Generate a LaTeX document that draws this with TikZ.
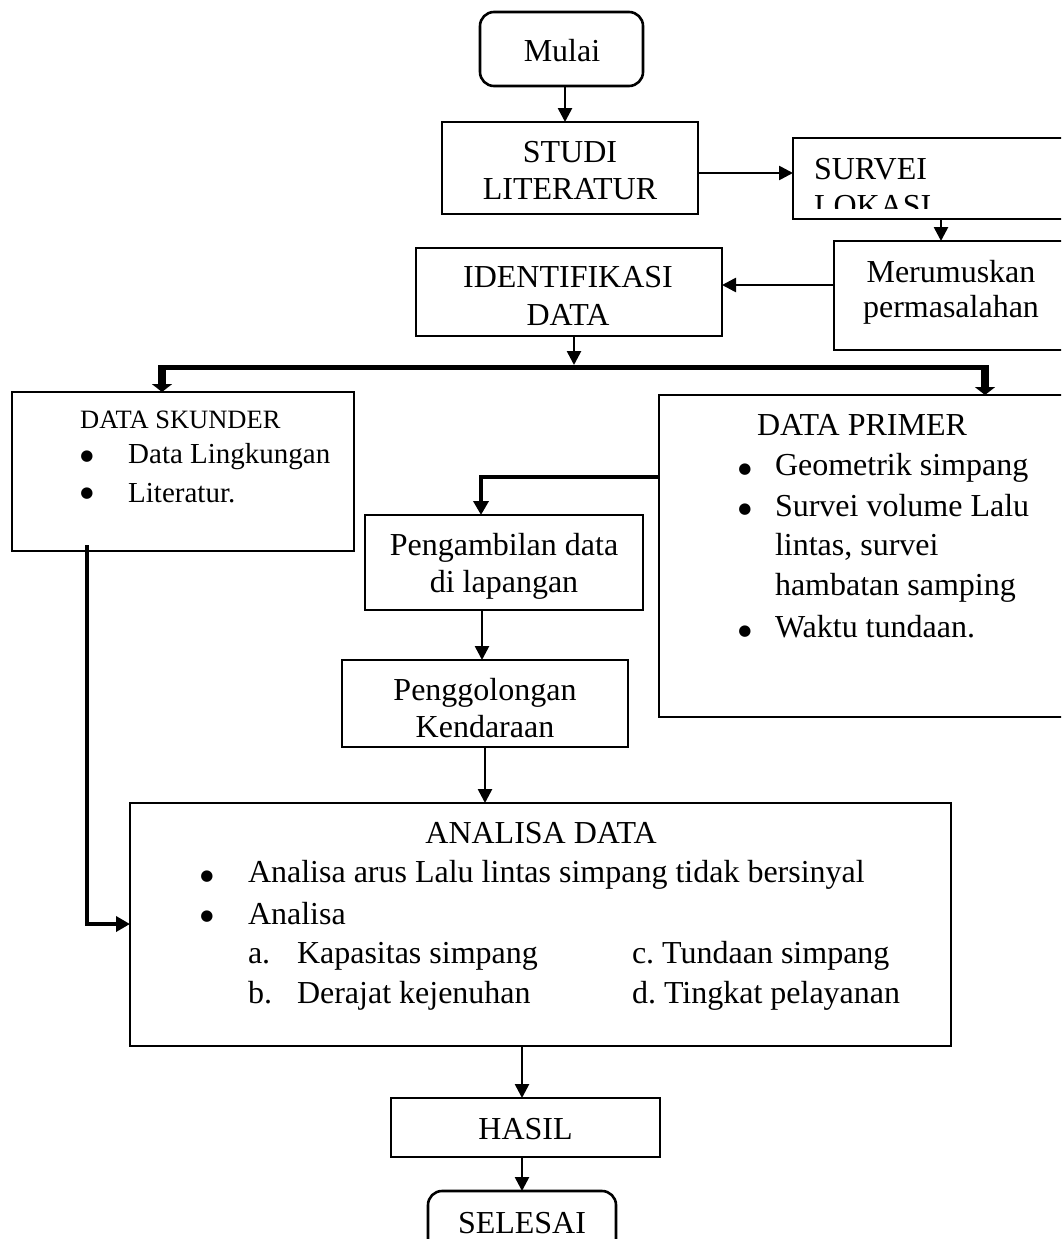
\documentclass[tikz,border=0pt]{standalone}
\usepackage{fontspec}
\setmainfont{Liberation Serif}
\newfontfamily\dejavu{DejaVu Sans}
\usetikzlibrary{arrows.meta}
\begin{document}
\begin{tikzpicture}[x=1pt,y=-1pt,
  box/.style={draw, line width=2.6pt, inner sep=0pt, outer sep=0pt},
  rbox/.style={box, rounded corners=14pt},
  txt/.style={anchor=base, inner sep=0pt, outer sep=0pt, font=\fontsize{32pt}{38pt}\selectfont},
  txtl/.style={txt, anchor=base west},
  stxt/.style={anchor=base west, inner sep=0pt, font=\fontsize{29pt}{35pt}\selectfont},
  sttl/.style={anchor=base west, inner sep=0pt, font=\fontsize{26.5pt}{32pt}\selectfont},
  bul/.style={anchor=base, inner sep=0pt, outer sep=0pt, font=\dejavu\fontsize{15pt}{15pt}\selectfont},
  arr/.style={line width=2.6pt, -{Triangle[width=14pt,length=14pt]}},
  arrb/.style={line width=3.5pt, -{Triangle[width=15pt,length=14pt]}},
  tarr/.style={line width=8pt, -{Triangle[width=20pt,length=8pt]}}
]
\useasboundingbox (0,0) rectangle (1061,1239);
\clip (0,0) rectangle (1061,1239);
\fill[white] (0,0) rectangle (1061,1239);

% boxes
\node[rbox, minimum width=163pt, minimum height=74pt] (mulai) at (561.5,49) {};
\node[box, minimum width=256pt, minimum height=92pt] (studi) at (570,168) {};
\node[box, minimum width=282pt, minimum height=81pt] (survei) at (934,178.5) {};
\node[box, minimum width=234pt, minimum height=109pt] (merum) at (951,295.5) {};
\node[box, minimum width=306pt, minimum height=88pt] (ident) at (569,292) {};
\node[box, minimum width=342pt, minimum height=159pt] (skunder) at (183,471.5) {};
\node[box, minimum width=416pt, minimum height=322pt] (primer) at (867,556) {};
\node[box, minimum width=278pt, minimum height=95pt] (ambil) at (504,562.5) {};
\node[box, minimum width=286pt, minimum height=87pt] (golong) at (485,703.5) {};
\node[box, minimum width=821pt, minimum height=243pt] (analisa) at (540.5,924.5) {};
\node[box, minimum width=269pt, minimum height=59pt] (hasil) at (525.5,1127.5) {};
\node[rbox, minimum width=188pt, minimum height=80pt] (selesai) at (522,1231) {};

% texts
\node[txt] (tmulai) at (562,62) {Mulai};
\node[txt] (tstudia) at (570,162) {STUDI};
\node[txt] (tstudib) at (570,199) {LITERATUR};
\begin{scope}
  \clip (793,138) rectangle (1075,208);
  \node[txtl] (tsurveia) at (814,179) {SURVEI};
  \node[txtl] (tsurveib) at (814,216) {LOKASI};
\end{scope}
\node[txt] (tmeruma) at (951,282) {Merumuskan};
\node[txt] (tmerumb) at (951,317) {permasalahan};
\node[txt] (tidenta) at (568,287) {IDENTIFIKASI};
\node[txt] (tidentb) at (568,325) {DATA};

\node[sttl] (tsk) at (80,428) {DATA SKUNDER};
\node[bul] (bska) at (87,460) {●};
\node[stxt] (tska) at (128,463) {Data Lingkungan};
\node[bul] (bskb) at (87,497) {●};
\node[stxt] (tskb) at (128,502) {Literatur.};

\node[txtl] (tpr) at (757,435) {DATA PRIMER};
\node[bul] (bpra) at (745,473) {●};
\node[txtl] (tpra) at (775,475) {Geometrik simpang};
\node[bul] (bprb) at (745,513) {●};
\node[txtl] (tprb) at (775,516) {Survei volume Lalu};
\node[txtl] (tprc) at (775,555) {lintas, survei};
\node[txtl] (tprd) at (775,595) {hambatan samping};
\node[bul] (bpre) at (745,635) {●};
\node[txtl] (tpre) at (775,637) {Waktu tundaan.};

\node[txt] (tambila) at (504,555) {Pengambilan data};
\node[txt] (tambilb) at (504,592) {di lapangan};
\node[txt] (tgola) at (485,700) {Penggolongan};
\node[txt] (tgolb) at (485,737) {Kendaraan};

\node[txt] (tan) at (541,843) {ANALISA DATA};
\node[bul] (bana) at (207,880) {●};
\node[txtl] (tana) at (248,882) {Analisa arus Lalu lintas simpang tidak bersinyal};
\node[bul] (banb) at (207,920) {●};
\node[txtl] (tanb) at (248,924) {Analisa};
\node[txtl] (tla) at (248,963) {a.};
\node[txtl] (tka) at (297,963) {Kapasitas simpang};
\node[txtl] (tlb) at (248,1003) {b.};
\node[txtl] (tkb) at (297,1003) {Derajat kejenuhan};
\node[txtl] (tkc) at (632,963) {c.\ Tundaan simpang};
\node[txtl] (tkd) at (632,1003) {d.\ Tingkat pelayanan};

\node[txt] (thasil) at (525.5,1139) {HASIL};
\node[txt] (tselesai) at (522,1233) {SELESAI};

% connectors
\draw[arr] (mulai.south -| 565,0) -- (studi.north -| 565,0);
\draw[arr] (studi.east |- 0,173) -- (survei.west |- 0,173);
\draw[arr] (survei.south -| 941,0) -- (merum.north -| 941,0);
\draw[arr] (merum.west |- 0,285) -- (ident.east |- 0,285);
\coordinate (bj) at (574,365);
\draw[arr] (ident.south -| bj) -- (bj);
\coordinate (bl) at (162,367);
\coordinate (br) at (985,367);
\draw[line width=5pt] ([xshift=-4pt]bl) -- ([xshift=4pt]br);
\draw[tarr] (bl) -- (skunder.north -| bl);
\draw[tarr] (br) -- (primer.north -| br);
\draw[arrb] (primer.west |- 0,477) -| (ambil.north -| 481,0);
\draw[arr] (ambil.south -| 482,0) -- (golong.north -| 482,0);
\draw[arr] (golong.south -| 485,0) -- (analisa.north -| 485,0);
\coordinate (sk) at (87,545);
\draw[arrb] (sk) |- (analisa.west |- 0,924);
\draw[arr] (analisa.south -| 522,0) -- (hasil.north -| 522,0);
\draw[arr] (hasil.south -| 522,0) -- (selesai.north -| 522,0);
\end{tikzpicture}
\end{document}
